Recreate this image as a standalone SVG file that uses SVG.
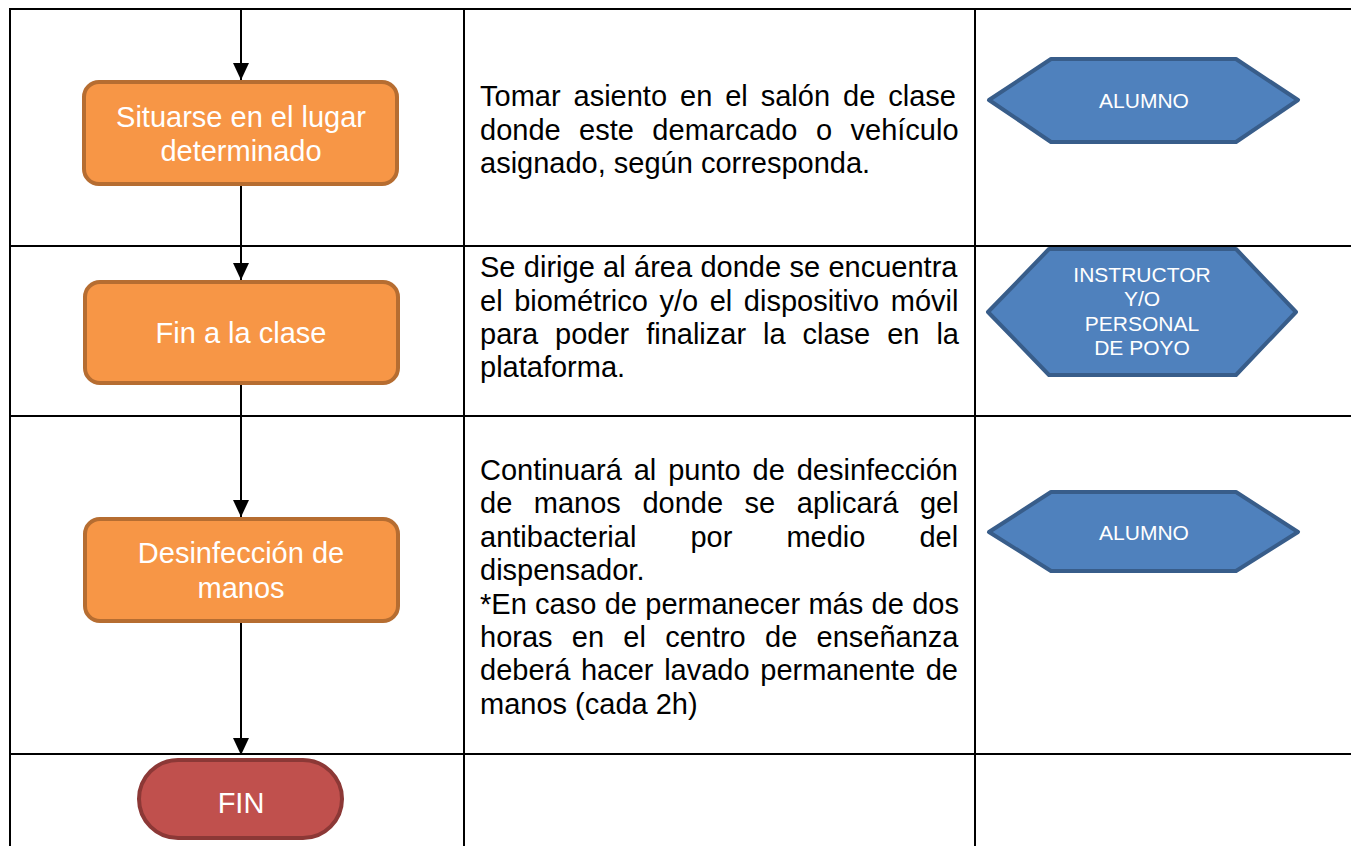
<svg xmlns="http://www.w3.org/2000/svg" width="1351" height="846" viewBox="0 0 1351 846">
<style>
.grid{stroke:#000;stroke-width:2;fill:none}
.proc{fill:#F79646;stroke:#B66D31;stroke-width:4}
.term{fill:#C0504D;stroke:#8C3836;stroke-width:4}
.hex{fill:#4F81BD;stroke:#385D8A;stroke-width:4;stroke-linejoin:round}
.lbl{font-family:"Liberation Sans",Arial,sans-serif;font-size:29px;fill:#fff;text-anchor:middle}
.hl{font-family:"Liberation Sans",Arial,sans-serif;font-size:21px;fill:#fff;text-anchor:middle}
.desc{font-family:"Liberation Sans",Arial,sans-serif;font-size:29px;fill:#000}
.conn{stroke:#000;stroke-width:2;fill:none}
</style>
<defs>
<marker id="arr" markerUnits="userSpaceOnUse" markerWidth="16" markerHeight="17" refX="17" refY="8" orient="auto">
<path d="M0,0 L17,8 L0,16 Z" fill="#000"/>
</marker>
</defs>
<rect width="1351" height="846" fill="#fff"/>
<g id="table">
<path class="grid" d="M9,9 H1351 M10,9 V846 M464,9 V846 M975,9 V846 M10,246 H1351 M10,416 H1351 M10,754 H1351"/>
</g>
<g id="connectors">
<path class="conn" d="M241,9 V80" marker-end="url(#arr)"/>
<path class="conn" d="M241,186 V280" marker-end="url(#arr)"/>
<path class="conn" d="M241,385 V517" marker-end="url(#arr)"/>
<path class="conn" d="M241,623 V755" marker-end="url(#arr)"/>
</g>
<g id="n1">
<rect class="proc" x="84" y="82" width="313" height="102" rx="15"/>
<text class="lbl" x="241" y="127">Situarse en el lugar</text>
<text class="lbl" x="241" y="161">determinado</text>
</g>
<g id="n2">
<rect class="proc" x="85" y="282" width="313" height="101" rx="15"/>
<text class="lbl" x="241" y="343">Fin a la clase</text>
</g>
<g id="n3">
<rect class="proc" x="85" y="519" width="313" height="102" rx="15"/>
<text class="lbl" x="241" y="563">Desinfección de</text>
<text class="lbl" x="241" y="598">manos</text>
</g>
<g id="fin">
<rect class="term" x="139" y="760" width="203" height="78" rx="39"/>
<text class="lbl" x="241" y="813">FIN</text>
</g>
<g id="d1">
<text class="desc" x="480" y="106" word-spacing="4.9">Tomar asiento en el salón de clase</text>
<text class="desc" x="480" y="139.5" word-spacing="10.4">donde este demarcado o vehículo</text>
<text class="desc" x="480" y="173">asignado, según corresponda.</text>
</g>
<g id="d2">
<text class="desc" x="480" y="277" word-spacing="0.3">Se dirige al área donde se encuentra</text>
<text class="desc" x="480" y="310.5" word-spacing="3.5">el biométrico y/o el dispositivo móvil</text>
<text class="desc" x="480" y="344" word-spacing="8.9">para poder finalizar la clase en la</text>
<text class="desc" x="480" y="377">plataforma.</text>
</g>
<g id="d3">
<text class="desc" x="480" y="480" word-spacing="3.8">Continuará al punto de desinfección</text>
<text class="desc" x="480" y="513.4" word-spacing="13.5">de manos donde se aplicará gel</text>
<text class="desc" x="480" y="546.8" word-spacing="46">antibacterial por medio del</text>
<text class="desc" x="480" y="580.2">dispensador.</text>
<text class="desc" x="480" y="613.6" word-spacing="0.3">*En caso de permanecer más de dos</text>
<text class="desc" x="480" y="647" word-spacing="11.2">horas en el centro de enseñanza</text>
<text class="desc" x="480" y="680.4" word-spacing="2.6">deberá hacer lavado permanente de</text>
<text class="desc" x="480" y="713.8">manos (cada 2h)</text>
</g>
<g id="r1">
<polygon class="hex" points="989,100 1051,59 1236,59 1298,100 1236,142 1051,142"/>
<text class="hl" x="1144" y="108">ALUMNO</text>
</g>
<g id="r2">
<polygon class="hex" points="988,312 1049,249 1236,249 1296,312 1236,375 1049,375"/>
<text class="hl" x="1142" y="282">INSTRUCTOR</text>
<text class="hl" x="1142" y="306">Y/O</text>
<text class="hl" x="1142" y="331">PERSONAL</text>
<text class="hl" x="1142" y="355">DE POYO</text>
</g>
<g id="r3">
<polygon class="hex" points="989,532 1051,492 1236,492 1298,532 1236,571 1051,571"/>
<text class="hl" x="1144" y="540">ALUMNO</text>
</g>
</svg>
